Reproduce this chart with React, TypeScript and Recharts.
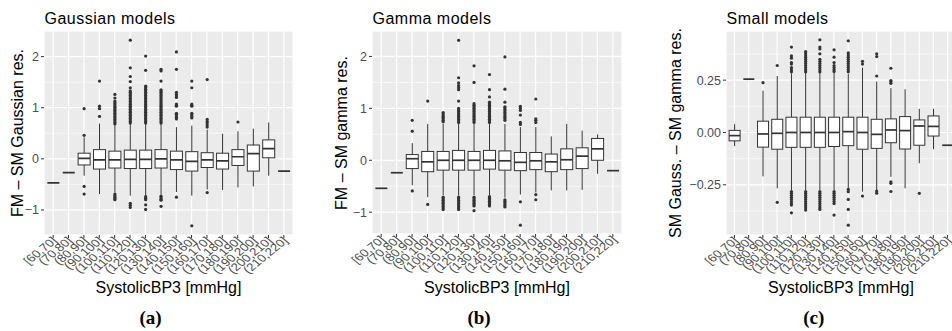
import React from "react";
import { ComposedChart, Bar, XAxis, YAxis, CartesianGrid } from "recharts";

// ---------- data ----------
const categories = [
  "[60,70]", "(70,80]", "(80,90]", "(90,100]", "(100,110]", "(110,120]", "(120,130]", "(130,140]",
  "(140,150]", "(150,160]", "(160,170]", "(170,180]", "(180,190]", "(190,200]", "(200,210]", "(210,220]",
];

const panelTitles = ["Gaussian models", "Gamma models", "Small models"];
const yAxisTitles = ["FM \u2013 SM Gaussian res.", "FM \u2013 SM gamma res.", "SM Gauss. \u2013 SM gamma res."];
const xAxisTitle = "SystolicBP3 [mmHg]";
const captions = ["(a)", "(b)", "(c)"];

const gaussTicks = [-1, 0, 1, 2];
const gaussMinorTicks = [-0.5, 0.5, 1.5];
const gammaTicks = [-1, 0, 1, 2];
const gammaMinorTicks = [-0.5, 0.5, 1.5];
const smallTicks = [-0.25, 0, 0.25];
const smallMinorTicks = [-0.375, -0.125, 0.125, 0.375];

// Gaussian models
const gaussLow = [-0.47, -0.27, -0.33, -0.69, -0.66, -0.72, -0.72, -0.70, -0.65, -0.72, -0.60, -0.61, -0.56, -0.54, -0.33, -0.24];
const gaussQ1 = [-0.47, -0.27, -0.12, -0.20, -0.18, -0.19, -0.19, -0.18, -0.21, -0.24, -0.17, -0.20, -0.13, -0.24, 0.02, -0.24];
const gaussMedian = [-0.47, -0.27, 0.01, -0.02, -0.02, -0.01, -0.01, 0.0, -0.02, -0.05, -0.02, -0.04, 0.04, 0.10, 0.20, -0.24];
const gaussQ3 = [-0.47, -0.27, 0.11, 0.18, 0.15, 0.17, 0.17, 0.18, 0.15, 0.14, 0.12, 0.11, 0.18, 0.27, 0.37, -0.24];
const gaussHigh = [-0.47, -0.27, 0.42, 0.69, 0.65, 0.68, 0.68, 0.68, 0.62, 0.65, 0.57, 0.49, 0.54, 0.59, 0.71, -0.24];
const gaussOutliers: number[][] = [
  [],
  [],
  [0.46, 0.98, -0.54, -0.69],
  [0.83, 0.98, 1.03, 1.52],
  [0.68, 0.71, 0.74, 0.77, 0.8, 0.83, 0.86, 0.89, 0.92, 0.95, 0.98, 1.01, 1.04, 1.07, 1.1, 1.13, 1.19, 1.26, -0.69, -0.72, -0.75, -0.78, -0.8],
  [0.7, 0.73, 0.76, 0.79, 0.82, 0.85, 0.88, 0.91, 0.94, 0.97, 1.0, 1.03, 1.06, 1.09, 1.12, 1.15, 1.18, 1.21, 1.24, 1.27, 1.3, 1.33, 1.39, 1.51, 1.61, 1.78, 2.32, -0.87, -0.91, -0.95],
  [0.7, 0.73, 0.76, 0.79, 0.82, 0.85, 0.88, 0.91, 0.94, 0.97, 1.0, 1.03, 1.06, 1.09, 1.12, 1.15, 1.18, 1.21, 1.24, 1.27, 1.3, 1.33, 1.36, 1.39, 1.42, 1.73, 2.01, -0.74, -0.77, -0.8, -0.9, -0.99],
  [0.7, 0.73, 0.76, 0.79, 0.82, 0.85, 0.88, 0.91, 0.94, 0.97, 1.0, 1.03, 1.06, 1.09, 1.12, 1.15, 1.18, 1.21, 1.24, 1.27, 1.3, 1.33, 1.35, 1.52, 1.72, 1.75, -0.73, -0.76, -0.79, -0.81, -0.93],
  [0.78, 0.81, 0.84, 0.87, 0.89, 1.03, 1.05, 1.07, 1.2, 1.23, 1.26, 1.3, 1.75, 2.09, -0.75],
  [0.8, 0.83, 0.86, 0.89, 1.03, 1.05, 1.07, 1.39, 1.52, -1.31],
  [0.62, 0.66, 0.7, 0.73, 0.77, 1.55, -0.66],
  [],
  [0.72],
  [],
  [],
  [],
];

// Gamma models
const gammaLow = [-0.54, -0.24, -0.48, -0.71, -0.67, -0.68, -0.67, -0.67, -0.72, -0.66, -0.62, -0.58, -0.58, -0.57, -0.26, -0.2];
const gammaQ1 = [-0.54, -0.24, -0.16, -0.22, -0.19, -0.19, -0.19, -0.17, -0.19, -0.2, -0.18, -0.22, -0.18, -0.16, 0.0, -0.2];
const gammaMedian = [-0.54, -0.24, 0.03, -0.03, 0.0, 0.0, 0.0, 0.0, -0.01, -0.04, -0.01, -0.03, 0.01, 0.08, 0.22, -0.2];
const gammaQ3 = [-0.54, -0.24, 0.11, 0.17, 0.17, 0.19, 0.17, 0.19, 0.18, 0.15, 0.15, 0.12, 0.22, 0.24, 0.42, -0.2];
const gammaHigh = [-0.54, -0.24, 0.33, 0.7, 0.7, 0.7, 0.7, 0.7, 0.7, 0.64, 0.64, 0.46, 0.7, 0.57, 0.5, -0.2];
const gammaOutliers: number[][] = [
  [],
  [],
  [0.56, 0.77, -0.59],
  [1.14, -0.85],
  [0.74, 0.77, 0.8, 0.83, 0.86, 0.89, 0.92, -0.71, -0.74, -0.77, -0.8, -0.83, -0.86, -0.89, -0.92, -0.95],
  [0.73, 0.76, 0.79, 0.82, 0.85, 0.88, 0.91, 0.94, 0.97, 1.0, 1.14, 1.36, 1.4, 1.44, 1.49, 1.59, 2.31, -0.71, -0.74, -0.77, -0.8, -0.83, -0.86, -0.89, -0.92, -0.95],
  [0.73, 0.76, 0.79, 0.82, 0.85, 0.88, 0.91, 0.94, 0.97, 1.0, 1.03, 1.06, 1.09, 1.5, 1.82, -0.71, -0.74, -0.77, -0.8, -0.83, -0.86, -0.88, -0.97],
  [0.73, 0.76, 0.79, 0.82, 0.85, 0.88, 0.91, 0.94, 0.97, 1.0, 1.03, 1.06, 1.09, 1.12, 1.22, 1.36, 1.65, -0.7, -0.73, -0.76, -0.79, -0.82, -0.85, -0.88],
  [0.77, 0.8, 0.83, 0.86, 0.89, 0.92, 0.95, 0.98, 1.01, 1.03, 1.12, 1.37, 1.99, -0.76, -0.79, -0.82, -0.85, -0.88, -0.9],
  [0.69, 0.73, 0.87, 0.96, 1.0, 1.04, -0.8, -1.25],
  [0.73, 0.77, 0.8, 1.18, -0.66, -0.76],
  [],
  [],
  [],
  [],
  [],
];

// Small models
const smallLow = [-0.065, 0.255, -0.21, -0.267, -0.275, -0.275, -0.275, -0.275, -0.265, -0.283, -0.275, -0.212, -0.267, -0.147, -0.08, -0.061];
const smallQ1 = [-0.04, 0.255, -0.07, -0.08, -0.071, -0.071, -0.071, -0.067, -0.063, -0.08, -0.076, -0.049, -0.079, -0.061, -0.017, -0.061];
const smallMedian = [-0.015, 0.255, -0.007, -0.004, 0.0, 0.0, 0.0, 0.0, 0.004, 0.0, -0.009, 0.012, 0.009, 0.031, 0.029, -0.061];
const smallQ3 = [0.01, 0.255, 0.054, 0.063, 0.073, 0.073, 0.073, 0.073, 0.073, 0.073, 0.063, 0.065, 0.076, 0.06, 0.079, -0.061];
const smallHigh = [0.04, 0.255, 0.2, 0.27, 0.283, 0.285, 0.285, 0.285, 0.28, 0.31, 0.243, 0.212, 0.207, 0.113, 0.113, -0.061];
const smallOutliers: number[][] = [
  [],
  [],
  [0.238],
  [0.32, -0.334],
  [0.29, 0.3, 0.31, 0.327, 0.334, 0.355, 0.366, 0.408, -0.282, -0.29, -0.3, -0.31, -0.32, -0.33, -0.34, -0.347, -0.384],
  [0.29, 0.3, 0.31, 0.32, 0.33, 0.34, 0.35, 0.36, 0.37, 0.38, 0.387, -0.282, -0.29, -0.3, -0.31, -0.32, -0.33, -0.34, -0.35, -0.36, -0.371],
  [0.29, 0.3, 0.31, 0.32, 0.33, 0.34, 0.35, 0.376, 0.399, 0.408, 0.443, -0.282, -0.29, -0.3, -0.31, -0.32, -0.33, -0.34, -0.35, -0.36, -0.368],
  [0.291, 0.3, 0.31, 0.32, 0.334, 0.36, 0.395, -0.282, -0.29, -0.3, -0.31, -0.32, -0.33, -0.34, -0.395],
  [0.29, 0.3, 0.31, 0.32, 0.33, 0.34, 0.35, 0.36, 0.37, 0.38, 0.438, -0.272, -0.283, -0.32, -0.368, -0.443],
  [0.327, 0.34, -0.304],
  [0.27, 0.363, 0.376, -0.28, -0.29],
  [0.235, 0.242, 0.248, 0.307, -0.236, -0.243, -0.282],
  [],
  [-0.291],
  [],
  [],
];

// ---------- helpers ----------
type Row = {
  cat: string; lo: number; q1: number; med: number; q3: number; hi: number; out: number[]; range: [number, number];
};

function buildRows(lo: number[], q1: number[], med: number[], q3: number[], hi: number[], out: number[][]): Row[] {
  return categories.map((cat, i) => {
    const all = [lo[i], hi[i], ...out[i]];
    return { cat, lo: lo[i], q1: q1[i], med: med[i], q3: q3[i], hi: hi[i], out: out[i], range: [Math.min(...all), Math.max(...all)] };
  });
}

const SANS = "'Liberation Sans', Arial, Helvetica, sans-serif";
const SERIF = "'Liberation Serif', 'Times New Roman', serif";
const INK = "#333333";
const TICK_TEXT = "#4D4D4D";

function BoxShape(props: any) {
  const { x, y, width, height, payload } = props;
  if (!payload || x == null || y == null) return null;
  const [vmin, vmax] = payload.range as [number, number];
  const span = vmax - vmin;
  const py = (v: number) => (span === 0 ? y : y + (height * (vmax - v)) / span);
  const cx = x + width / 2;
  const yq1 = py(payload.q1);
  const yq3 = py(payload.q3);
  const ymed = py(payload.med);
  const ylo = py(payload.lo);
  const yhi = py(payload.hi);
  return (
    <g>
      <line x1={cx} x2={cx} y1={yhi} y2={yq3} stroke={INK} strokeWidth={1} />
      <line x1={cx} x2={cx} y1={yq1} y2={ylo} stroke={INK} strokeWidth={1} />
      <rect x={x} y={Math.min(yq3, yq1)} width={width} height={Math.abs(yq1 - yq3)} fill="#FFFFFF" stroke={INK} strokeWidth={1} />
      <line x1={x} x2={x + width} y1={ymed} y2={ymed} stroke={INK} strokeWidth={1.7} />
      {payload.out.map((v: number, i: number) => (
        <circle key={i} cx={cx} cy={py(v)} r={1.6} fill={INK} />
      ))}
    </g>
  );
}

function XTick(props: any) {
  const { x, y, payload } = props;
  return (
    <g transform={`translate(${x + 3},${y})`}>
      <text transform="scale(1.22,1) rotate(-45)" x={0} y={0} dy={2} textAnchor="end" fontSize={11} fontFamily={SANS} fill={TICK_TEXT}>
        {payload.value}
      </text>
    </g>
  );
}

const fmtInt = (v: number) => (v < 0 ? "\u2212" + Math.abs(v) : String(v));
const fmt2 = (v: number) => (v < 0 ? "\u2212" : "") + Math.abs(v).toFixed(2);

type PanelCfg = {
  rows: Row[]; left: number; right: number; top: number; bottom: number; chartWidth: number;
  domain: [number, number]; ticks: number[]; minor: number[]; fmt: (v: number) => string;
};

const H = 331;
const YW = 40;
const XH = 50;

function Panel({ cfg }: { cfg: PanelCfg }) {
  const { rows, left, right, top, bottom, chartWidth, domain, ticks, minor, fmt } = cfg;
  const band = (right - left) / (categories.length + 1.2);
  const pad = 0.1 * band;
  return (
    <div style={{ position: "absolute", left: 0, top: 0 }}>
      <ComposedChart
        width={chartWidth}
        height={H}
        data={rows}
        margin={{ top, left: left - YW, right: chartWidth - right, bottom: H - bottom - XH }}
        barCategoryGap="12.5%"
      >
        <XAxis
          dataKey="cat"
          type="category"
          interval={0}
          height={XH}
          padding={{ left: pad, right: pad }}
          axisLine={false}
          tickLine={{ stroke: INK }}
          tickSize={3}
          tickMargin={2}
          tick={<XTick />}
        />
        <YAxis
          yAxisId="main"
          type="number"
          domain={domain}
          ticks={ticks}
          allowDataOverflow
          interval={0}
          width={YW}
          axisLine={false}
          tickLine={{ stroke: INK }}
          tickSize={3}
          tickMargin={2}
          tickFormatter={fmt}
          tick={{ fill: TICK_TEXT, fontSize: 12.5, fontFamily: SANS }}
        />
        <YAxis yAxisId="minor" type="number" domain={domain} ticks={minor} allowDataOverflow interval={0} hide />
        <CartesianGrid yAxisId="minor" vertical={false} fill="#EBEBEB" fillOpacity={1} stroke="#FFFFFF" strokeWidth={0.6} />
        <CartesianGrid yAxisId="main" stroke="#FFFFFF" strokeWidth={1.2} />
        <Bar yAxisId="main" dataKey="range" shape={BoxShape} isAnimationActive={false} />
      </ComposedChart>
    </div>
  );
}

const panels: PanelCfg[] = [
  {
    rows: buildRows(gaussLow, gaussQ1, gaussMedian, gaussQ3, gaussHigh, gaussOutliers),
    left: 44, right: 293, top: 31, bottom: 235, chartWidth: 952,
    domain: [-1.49, 2.5], ticks: gaussTicks, minor: gaussMinorTicks, fmt: fmtInt,
  },
  {
    rows: buildRows(gammaLow, gammaQ1, gammaMedian, gammaQ3, gammaHigh, gammaOutliers),
    left: 372, right: 622, top: 31, bottom: 234, chartWidth: 952,
    domain: [-1.42, 2.49], ticks: gammaTicks, minor: gammaMinorTicks, fmt: fmtInt,
  },
  {
    rows: buildRows(smallLow, smallQ1, smallMedian, smallQ3, smallHigh, smallOutliers),
    left: 726, right: 956, top: 31, bottom: 235, chartWidth: 1000,
    domain: [-0.49, 0.485], ticks: smallTicks, minor: smallMinorTicks, fmt: fmt2,
  },
];

const titleX = [44.5, 372.5, 726.5];
const yTitleX = [22.5, 347.3, 680.6];
const xTitleX = [168.5, 497, 841];
const captionX = [150.5, 479, 813.7];

export default function App() {
  return (
    <div style={{ position: "fixed", left: 0, top: 0, width: 952, height: H, overflow: "hidden", background: "#FFFFFF" }}>
      {panels.map((p, i) => (
        <Panel key={i} cfg={p} />
      ))}
      <svg width={952} height={H} style={{ position: "absolute", left: 0, top: 0, pointerEvents: "none" }}>
        {panelTitles.map((t, i) => (
          <text key={"t" + i} x={titleX[i]} y={24} fontSize={16} letterSpacing={0.5} fontFamily={SANS} fill="#000000">
            {t}
          </text>
        ))}
        {yAxisTitles.map((t, i) => (
          <text
            key={"y" + i}
            transform={`translate(${yTitleX[i]},133) rotate(-90)`}
            textAnchor="middle"
            fontSize={16}
            fontFamily={SANS}
            fill="#000000"
          >
            {t}
          </text>
        ))}
        {xTitleX.map((cx, i) => (
          <text key={"x" + i} x={cx} y={293} textAnchor="middle" fontSize={16} fontFamily={SANS} fill="#000000">
            {xAxisTitle}
          </text>
        ))}
        {captions.map((c, i) => (
          <text key={"c" + i} x={captionX[i]} y={324} textAnchor="middle" fontSize={19} fontWeight="bold" fontFamily={SERIF} fill="#000000">
            {c}
          </text>
        ))}
      </svg>
    </div>
  );
}
